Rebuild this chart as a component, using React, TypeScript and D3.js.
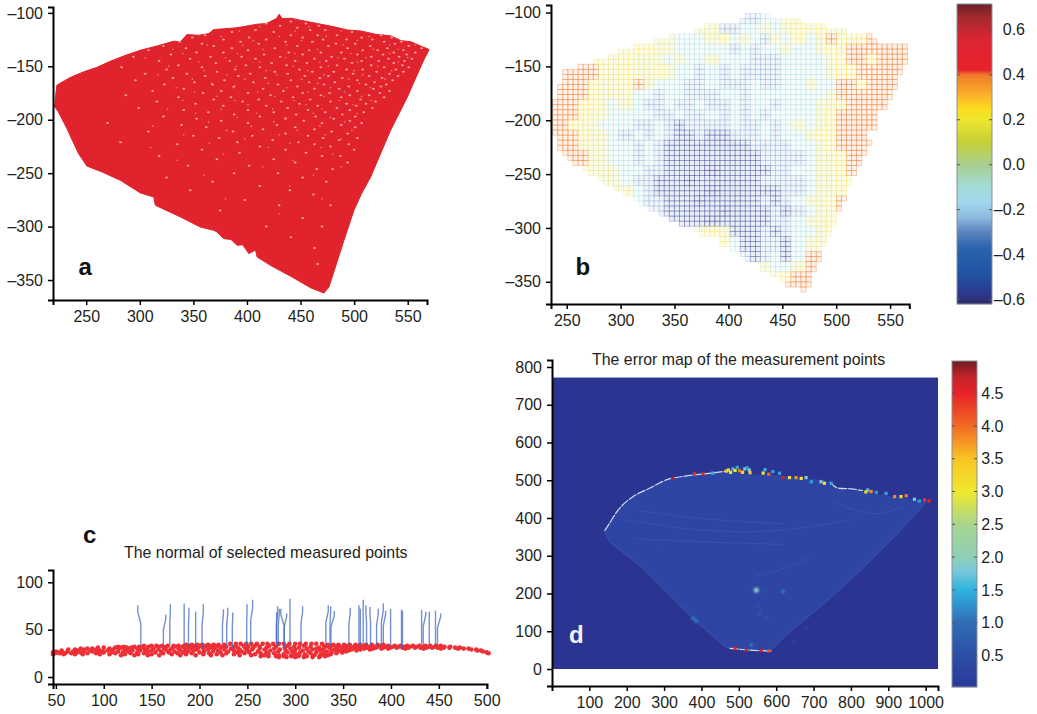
import React, { useEffect, useRef } from "react";
import * as d3 from "d3";

type Pt = [number, number];
type Row = [number, number[]];

// --- panel a: outline of the measured cloud, pale gaps in it
const cloudOutline: Pt[] = [
  [220.4, -187.4], [222.6, -167.7], [235, -160.5], [247.5, -155.2], [260, -151], [272.4, -145.3], [286, -140], [300.5, -135],
  [316, -131], [331.6, -126.5], [338, -127], [344, -120.3], [355, -121], [364.3, -119.4], [369, -115.6], [390, -114], [409.5, -110.6],
  [418, -110], [427.6, -105.3], [430, -101.2], [432.9, -105.3], [441, -105], [450, -106.9], [466, -110], [481, -113], [494, -116], [506, -116.9],
  [520, -120], [534, -121.5], [544, -126], [553, -127], [562, -131], [570, -134.3], [565, -144], [557, -162], [549.7, -178.7], [541, -196], [534, -209.9],
  [525, -231], [515.4, -253.6], [507, -269], [499.8, -284.8], [490.5, -312.9], [476.5, -356.6], [471.8, -362.2], [459.3, -357.2], [440, -346],
  [423.5, -337.2], [409.5, -328.5], [408, -322], [401.7, -325.3], [396, -317], [390.8, -317.5], [385, -312], [378.3, -311.3], [372, -305], [369, -303.5],
  [356.5, -300.4], [337.9, -291], [314.5, -280], [313, -272.3], [300.5, -268.5], [281.8, -256.7], [265, -249], [250.6, -243.3], [242.8, -231.7], [232, -208.3], [224, -192.7],
];
const cloudGaps: Row[] = [
  [-108, [441, 476]], [-110, [418, 455, 492]], [-112, [396, 431, 467, 503]], [-114, [372, 447, 486, 519]], [-116, [408, 459, 473, 530]],
  [-118, [386, 425, 498, 511, 541]], [-121, [361, 441, 466, 484, 525, 549]], [-123, [349, 402, 452, 507, 535]], [-125, [378, 418, 471, 493, 517, 556]],
  [-127, [337, 394, 436, 461, 528, 544]], [-129, [358, 411, 483, 501, 538, 560]], [-131, [322, 369, 447, 476, 515, 551]], [-133, [343, 386, 426, 494, 531, 563]],
  [-135, [308, 401, 458, 508, 522, 546]], [-137, [353, 378, 439, 469, 488, 537, 557]], [-139, [329, 416, 452, 503, 527, 549]], [-141, [294, 366, 395, 431, 479, 516, 542]],
  [-143, [347, 408, 463, 491, 532, 554]], [-145, [318, 384, 445, 474, 507, 523, 547]], [-147, [371, 423, 456, 498, 537]], [-149, [336, 399, 437, 484, 516, 545]],
  [-151, [283, 358, 412, 469, 528, 551]], [-153, [325, 389, 449, 493, 508, 539]], [-155, [372, 426, 461, 481, 521, 546]], [-157, [305, 344, 403, 438, 499, 533]],
  [-159, [361, 392, 454, 476, 514, 541]], [-161, [331, 417, 468, 489, 526]], [-163, [296, 379, 441, 503, 536]], [-165, [351, 406, 458, 482, 519]],
  [-167, [323, 368, 429, 472, 511, 530]], [-169, [388, 447, 495, 525]], [-171, [341, 415, 463, 486, 518]], [-173, [312, 376, 434, 503, 533]],
  [-175, [359, 401, 452, 477, 524]], [-177, [287, 422, 469, 496, 514]], [-179, [336, 385, 443, 488, 528]], [-181, [369, 411, 459, 506]],
  [-183, [316, 396, 432, 478, 520]], [-185, [352, 449, 493, 511]], [-187, [378, 418, 466, 502]], [-189, [299, 438, 484, 517]], [-191, [341, 401, 457, 496]],
  [-193, [364, 425, 473, 509]], [-195, [388, 446, 489]], [-197, [322, 412, 464, 501]], [-199, [353, 436, 481]], [-201, [376, 453, 496]], [-203, [270, 401, 470, 507]],
  [-205, [339, 428, 488]], [-207, [362, 445, 501]], [-209, [415, 463]], [-211, [308, 387, 479]], [-213, [436, 494]], [-215, [350, 405, 457]], [-217, [374, 471, 503]],
  [-219, [424, 486]], [-221, [282, 391, 448]], [-223, [335, 463, 495]], [-225, [412, 478]], [-228, [358, 436, 500]], [-231, [393, 455]], [-234, [318, 470, 487]],
  [-237, [372, 425]], [-240, [445, 494]], [-243, [345, 402]], [-246, [465, 480]], [-250, [388, 429]], [-254, [325, 452]], [-258, [368, 474]], [-262, [412]],
  [-266, [347, 440]], [-270, [462]], [-275, [398]], [-280, [430, 478]], [-285, [375]], [-292, [452]], [-300, [418, 470]], [-310, [441]], [-320, [463]], [-335, [466]],
];
const cloudGapsFine: Row[] = [
  [-113, [412, 458, 497]], [-117, [393, 445, 488, 523]], [-122, [376, 430, 474, 514, 538]], [-126, [406, 451, 503, 552]], [-130, [363, 396, 437, 490, 533, 557]],
  [-134, [331, 415, 466, 518, 541]], [-138, [340, 391, 445, 497, 533]], [-142, [305, 380, 436, 485, 511, 550]], [-146, [355, 412, 468, 503, 541]],
  [-150, [327, 390, 443, 476, 522]], [-154, [360, 418, 457, 500, 535]], [-158, [317, 381, 428, 472, 508]], [-162, [349, 398, 451, 495, 529]], [-166, [367, 420, 466, 505]],
  [-170, [334, 387, 437, 478, 515]], [-174, [351, 410, 457, 491]], [-178, [372, 426, 472, 507]], [-182, [340, 389, 444, 486, 516]], [-186, [401, 455, 499]],
  [-190, [326, 376, 424, 470]], [-194, [352, 409, 462, 503]], [-198, [391, 436, 478]], [-202, [364, 425, 491]], [-206, [312, 404, 468]], [-210, [381, 447, 498]],
  [-214, [341, 430, 473]], [-218, [398, 488]], [-222, [365, 440]], [-226, [310, 420, 469]], [-232, [378, 480]], [-238, [335, 443]], [-244, [415, 488]],
  [-252, [360, 462]], [-262, [440]], [-274, [380, 470]], [-288, [430]],
];

// --- panel b: residual level, one row per 10 units: [top y, first x, levels]
const residualOutline: Pt[] = [
  [237.6, -187.5], [240.7, -175], [248.5, -155], [281, -144], [299.5, -135], [330.4, -125.7], [370.6, -114.8], [420, -102.5],
  [441.7, -103.4], [482, -110.8], [516, -118], [534.5, -122], [567, -132], [567, -141], [546.8, -187.5], [531.4, -221.5], [516, -251],
  [503.5, -283], [485, -326.7], [472.6, -359], [457, -354.5], [423, -332.8], [373.7, -305], [330.4, -283.4], [293.3, -263], [265.5, -246],
  [245.4, -232.3], [237.6, -209],
];
const residualRows: [number, number, number[]][] = [
  [-100, 410, [-2, -2, -1, -1, 1, 1]],
  [-110, 370, [1, 1, -2, -2, -1, -1, 1, -1, 1, 2, 1, 2, 1, 1]],
  [-120, 330, [1, 1, -1, -1, -1, 1, 2, -1, 1, -1, -2, 1, -1, 2, -1, 1, 3, 2, 1, 2, 3]],
  [-130, 300, [1, 2, 2, 1, 1, -1, -1, -1, -1, -1, -2, -1, -2, -1, -1, 1, -1, -1, 1, 2, 1, 3, 3, 3, 3, 3, 3, 3]],
  [-140, 250, [3, 3, 2, 2, 1, 2, 1, 1, 1, -1, 1, -1, -1, 1, -1, -1, -1, -2, -2, -2, -1, -1, -1, -1, 1, 2, 3, 3, 2, 3, 3, 3, 3]],
  [-150, 240, [3, 3, 3, 3, 2, 1, 2, 1, 1, 2, 1, -1, -1, -2, -1, -2, -1, -2, -2, -2, -2, -1, -1, -1, -1, 1, 2, 2, 3, 3, 3, 3, 3]],
  [-160, 240, [3, 3, 3, 2, 1, 1, 2, 3, 1, -1, -1, -1, -2, -2, -1, -2, -2, -2, -1, -2, -2, -1, -1, 1, -1, -1, 3, 3, 2, 3, 3, 3]],
  [-170, 230, [3, 3, 3, 3, 2, 1, 1, 1, -1, -1, -2, -1, -1, -2, -2, -2, -1, -1, -2, -1, -1, -1, -1, -1, -1, -1, 1, 3, 3, 3, 3, 3, 3]],
  [-180, 230, [3, 3, 3, 2, 2, 1, -1, 1, -1, -2, -2, -1, -2, -2, -1, -2, -2, -1, -2, -1, -1, -2, -1, -1, -1, 1, 1, 2, 3, 3, 3, 3]],
  [-190, 230, [3, 3, 3, 2, 1, 1, -1, -1, -1, -1, -2, -2, -1, -2, -2, -1, -2, -1, -2, -1, -2, -1, -1, -1, -1, 1, 2, 3, 3, 3, 3]],
  [-200, 230, [3, 3, 2, 1, 1, -1, -1, -1, -2, -2, -1, -2, -3, -2, -2, -2, -2, -1, -2, -2, -1, -2, -1, 1, -1, 1, 2, 3, 3, 3, 3]],
  [-210, 230, [3, 3, 3, 2, 1, 1, -1, -2, -1, -2, -1, -2, -3, -3, -2, -3, -3, -2, -2, -2, -1, -2, -1, -1, 1, 2, 2, 3, 3, 3]],
  [-220, 240, [3, 3, 1, 1, 1, -1, -1, -2, -1, -2, -3, -3, -3, -3, -3, -3, -3, -3, -2, -2, -2, -2, -1, -1, 1, 2, 3, 3, 3, 3]],
  [-230, 240, [3, 3, 3, 1, 1, -1, -1, -2, -1, -2, -3, -3, -3, -3, -3, -3, -3, -3, -3, -2, -2, -2, -2, -1, 1, 1, 2, 3, 3]],
  [-240, 250, [3, 2, 1, 1, 1, -1, -1, -2, -2, -3, -3, -3, -3, -4, -3, -3, -3, -3, -3, -2, -2, -1, -1, 1, 1, 2, 3, 3]],
  [-250, 260, [2, 2, 1, 1, -1, -2, -2, -3, -3, -3, -4, -3, -3, -3, -3, -3, -3, -2, -2, -2, -2, -1, 1, 1, 2, 2, 3]],
  [-260, 280, [2, 2, 1, -1, -2, -3, -3, -3, -3, -3, -4, -3, -3, -3, -3, -3, -3, -2, -2, -1, 1, 1, 2, 3]],
  [-270, 300, [1, -1, -2, -2, -3, -3, -3, -4, -3, -3, -3, -3, -3, -2, -3, -2, -1, 1, 1, 2, 3, 3]],
  [-280, 320, [-2, -2, -3, -3, -3, -3, -3, -4, -3, -3, -3, -3, -2, -3, -2, -1, 1, 1, 3, 3]],
  [-290, 340, [-3, -3, -3, -3, -4, -3, -3, -3, -3, -3, -2, -2, -1, 1, 1, 2, 3, 3]],
  [-300, 370, [1, 2, 1, -3, -3, -3, -2, -3, -2, -1, -1, 1, 2, 3, 3]],
  [-310, 390, [2, -1, -3, -3, -2, -2, -3, -1, 1, 1, 3, 3]],
  [-320, 410, [-2, -3, -2, -1, -3, -1, 3, 3, 3]],
  [-330, 430, [1, -1, -1, 1, 3, 3]],
  [-340, 440, [1, 2, 3, 3, 3]],
  [-350, 450, [3, 3, 3, 3]],
];
// what each level reads as on the colour bar, from level -4 up to level 3 (no level 0)
const residualLevels = [-0.58, -0.54, -0.27, -0.12, 0, 0.14, 0.25, 0.4];
const levelStrength = [0.46, 0.36, 0.3, 0.3, 0.3, 0.22, 0.28, 0.46];
const residualStops = [-0.62, -0.57, -0.48, -0.37, -0.3, -0.23, -0.17, -0.1, 0, 0.1, 0.2, 0.25, 0.3, 0.4, 0.42, 0.55, 0.65, 0.715];
const residualColors = ["#2d2a6a", "#2b3a8f", "#2155a4", "#2a64ad", "#5c85bf", "#8fbde0", "#a2d6ee", "#a2dcd8", "#a8cf90", "#c7cf36", "#eee62d", "#f9dc1d", "#fbb829", "#f07a2a", "#e6232c", "#de2530", "#a82a30", "#6b2025"];
const residualTicks = [-0.6, -0.4, -0.2, 0, 0.2, 0.4, 0.6];

// --- panel c: surface points, one row per height, and the normals [base x, base y, top x, top y]
const surfaceRows: Row[] = [
  [35, [232, 238, 243, 249, 254, 260, 266, 271, 277, 283, 288, 294, 300, 305, 311, 317, 322, 328]],
  [34, [186, 192, 198, 203, 209, 215, 220, 226, 334, 340, 345, 351, 357, 363, 368, 374, 380, 386, 392]],
  [33, [142, 150, 155, 161, 167, 173, 178, 184, 190, 196, 201, 207, 213, 219, 225, 246, 258, 273, 292, 309, 330, 338, 346, 355, 364, 372, 381, 389, 397, 404, 410, 417, 423, 430, 436, 441, 447, 452]],
  [32, [115, 121, 132, 137, 147, 158, 165, 176, 182, 194, 205, 217, 228, 236, 251, 263, 280, 299, 316, 332, 343, 352, 361, 370, 378, 386, 394, 402, 408, 414, 420, 427, 433, 440, 446, 451, 456, 462]],
  [31, [94, 100, 112, 118, 124, 129, 139, 146, 172, 187, 199, 211, 222, 240, 256, 270, 289, 304, 325, 336, 349, 358, 366, 375, 384, 392, 399, 406, 412, 418, 425, 431, 437, 443, 449, 455, 461, 467, 472]],
  [30, [76, 83, 88, 106, 116, 127, 135, 152, 163, 178, 191, 204, 215, 233, 248, 263, 278, 295, 312, 322, 344, 354, 363, 372, 381, 390, 397, 415, 434, 452, 470, 476, 481]],
  [29, [63, 70, 80, 92, 110, 122, 143, 157, 170, 185, 197, 209, 226, 242, 255, 268, 284, 300, 318, 329, 341, 350, 359, 368, 378, 484, 489]],
  [28, [56, 73, 86, 96, 104, 130, 138, 150, 166, 180, 194, 219, 236, 250, 274, 290, 308, 326, 338, 347, 356, 364, 490, 494]],
  [27, [50, 62, 68, 79, 88, 99, 115, 125, 146, 160, 174, 188, 205, 214, 230, 244, 261, 282, 297, 314, 333, 344, 353, 496]],
  [26, [47, 52, 57, 72, 76, 93, 100, 108, 120, 135, 154, 168, 183, 200, 222, 240, 252, 270, 292, 305, 322, 338, 349, 500]],
  [25, [49, 54, 60, 66, 83, 92, 112, 128, 142, 162, 177, 192, 210, 228, 247, 264, 278, 300, 316, 330, 343, 502]],
  [24, [47, 58, 70, 78, 96, 106, 122, 136, 150, 171, 186, 204, 218, 236, 258, 272, 288, 310, 327, 337]],
  [23, [118, 132, 146, 158, 180, 196, 212, 224, 242, 254, 268, 283, 296, 304, 320, 334]],
  [22, [264, 272, 280, 288, 296, 303, 312, 326, 331]],
  [21, [283, 291, 300, 309, 318, 325]],
];
const normals: [number, number, number, number][] = [
  [138.7, 33, 135.6, 75.7], [162.3, 29, 164.8, 66], [169, 34, 169.6, 76.8], [184, 35, 184, 77.5], [188.5, 33, 189, 73], [196, 32, 196, 69],
  [202.7, 30, 204, 76.8], [224, 35, 225, 71.5], [228.4, 33, 229.5, 73], [234.3, 31, 234.7, 68], [249.3, 33, 249.6, 76.8], [253.5, 35, 255.5, 81.7],
  [280.6, 33, 281.6, 74.6], [280.3, 34, 280.6, 68.7], [282.3, 34, 283.4, 72], [288.6, 31, 285, 72], [288.3, 33, 291, 67], [294.5, 35, 294.5, 82.7],
  [306, 35, 307.7, 74.6], [332, 35, 334.5, 75.7], [336.3, 34, 337, 74.6], [337.3, 32, 340.8, 69.7], [356, 34, 357.5, 73], [366.5, 35, 366.5, 75.7],
  [368, 34, 368, 72], [371, 35, 371, 81.7], [374.5, 34, 373.8, 75.7], [378.7, 34, 378, 74], [385, 33, 386.7, 72], [390, 34, 392, 78],
  [392, 34, 394.4, 70], [399.6, 33, 399.6, 72], [411, 31, 411, 71], [412, 30, 412, 70], [432, 35, 432, 71], [433.7, 34, 436.4, 69],
  [440, 34, 440, 69], [446.5, 34, 446.5, 70], [448.6, 33, 452, 67],
];

// --- panel d: fan outline, bright edge, hot spots [x, y, error], soft glows [x, y, error]
const fanTop: Pt[] = [
  [140.5, 362], [154, 386], [180.7, 425.6], [216, 456.5], [261, 478.7], [305.7, 500.7], [368, 512], [457, 524.5], [529, 515.7], [600, 514], [671.6, 505],
  [734, 498], [756.6, 480], [832, 469.8], [912.6, 456.5], [1002, 443],
];
const fanBottom: Pt[] = [
  [1002, 443], [930, 364], [823, 258], [734, 178], [627, 90], [582, 46], [466, 56.5], [386, 125], [243, 266.7], [154, 337], [140.5, 362],
];
const fanEdgeTop: Pt[] = [
  [140.6, 365.7], [154, 386], [180.7, 425.7], [216.5, 456.6], [261, 478.7], [305.7, 500.8], [363.7, 512], [421.7, 518.4], [470.8, 524.6],
];
const fanEdgeRight: Pt[] = [[745, 495], [760, 481], [800, 477], [832, 472.5]];
const fanEdgeBottom: Pt[] = [[475, 54.7], [530, 50], [587, 47.6]];
const hotSpots: [number, number, number][] = [
  [252, 483, 0.02], [297, 503, 0.02], [323, 505, 4.8], [382, 517, 4.4], [404, 517, 4.5], [430, 519, 1.5],
  [466, 524, 3.4], [472, 527, 3.1], [478, 521, 3], [484, 530, 1.5], [490, 526, 3], [496, 534, 1.4], [502, 525, 3.9], [510, 521, 3.2], [516, 530, 1.8],
  [522, 533, 1.4], [528, 527, 1.9], [530, 520, 3.5], [565, 519, 3], [570, 528, 1.5], [580, 516, 4],
  [591, 523, 1.4], [609, 518.5, 1.4], [618, 507, 4.7], [635.6, 507, 3.1], [653, 507, 3.8], [667, 505, 3.1], [680, 507, 1.8], [694, 496, 1.4],
  [720, 496, 1.9], [729, 492, 3.1], [747, 492, 1.5], [845, 474, 1.7], [840, 469, 3.2], [854, 470, 3.8], [868, 468, 1.3], [894, 465, 1.4],
  [917, 456.6, 3.8], [934, 456.6, 3.2], [948, 459, 3.9], [970, 449.6, 1.8], [983, 445, 1.4], [997, 448, 4.4], [1009, 445, 4.5],
  [490, 55, 4.5], [520, 50, 4.7], [560, 49, 4.7], [580, 48, 4.2],
];
const glows: [number, number, number][] = [
  [546.7, 209, 1.9], [618, 205, 1.2], [572, 209, 0.8], [386, 127, 1.2], [378, 134, 1.2], [533, 63.5, 1.2], [556, 147, 0.9], [573, 134, 0.9], [551, 169, 0.8], [350, 165, 0.7], [680, 110, 0.7], [645, 75, 0.7], [290, 320, 0.6],
];
const fanStreaks: Pt[][] = [
  [[230, 420], [400, 395], [620, 385]],
  [[200, 395], [380, 365], [600, 360], [800, 395]],
  [[220, 345], [420, 335], [620, 330]],
  [[540, 245], [610, 260], [700, 300]],
  [[760, 440], [860, 400], [940, 430]],
];
const errorStops = [0.02, 0.5, 1, 1.5, 1.8, 2, 2.5, 3, 3.5, 4, 4.5, 4.75, 4.99];
const errorColors = ["#2b3a9a", "#2d4ea5", "#2f6db5", "#2eb2e0", "#7cc9d8", "#8fcfb8", "#a8d68f", "#f0e92c", "#f8c425", "#f26a21", "#e8222a", "#c2242a", "#6e1a1e"];
const errorTicks = [0.5, 1, 1.5, 2, 2.5, 3, 3.5, 4, 4.5];

const xTicksTop = [250, 300, 350, 400, 450, 500, 550];
const yTicksTop = [-100, -150, -200, -250, -300, -350];
const xTicksC = [50, 100, 150, 200, 250, 300, 350, 400, 450, 500];
const yTicksC = [0, 50, 100];
const xTicksD = [100, 200, 300, 400, 500, 600, 700, 800, 900, 1000];
const yTicksD = [0, 100, 200, 300, 400, 500, 600, 700, 800];

const FONT = "'Liberation Sans', Arial, sans-serif";
const INK = "#231f20";

const dash = (v: number) => String(v).replace("-", "\u2013");

function styleAxis(g: any) {
  g.selectAll(".domain").attr("stroke", "#000").attr("stroke-width", 2);
  g.selectAll(".tick line").attr("stroke", "#000").attr("stroke-width", 1.5);
  g.selectAll("text").attr("font-family", FONT).attr("font-size", 16).attr("fill", INK);
}

function drawAxes(svg: any, x: any, y: any, xTicks: number[], yTicks: number[]) {
  const left = x.range()[0];
  const bottom = y.range()[0];
  svg.append("g").attr("transform", `translate(${left},0)`)
    .call(d3.axisLeft(y).tickValues(yTicks).tickSizeOuter(0).tickSize(5).tickPadding(5).tickFormat((d: any) => dash(d)))
    .call(styleAxis);
  return svg.append("g").attr("transform", `translate(0,${bottom})`)
    .call(d3.axisBottom(x).tickValues(xTicks).tickSizeOuter(0).tickSize(5).tickPadding(6).tickFormat((d: any) => dash(d)))
    .call(styleAxis);
}

function drawColorbar(svg: any, color: any, scale: any, ticks: number[], left: number, right: number, labelX: number, fmt: (v: number) => string) {
  const [bottom, top] = scale.range();
  const steps = d3.range(top, bottom, 1);
  svg.append("g").selectAll("rect").data(steps).join("rect")
    .attr("x", left).attr("width", right - left)
    .attr("y", (d: number) => d).attr("height", 1.2)
    .attr("fill", (d: number) => color(scale.invert(d + 0.5)));
  svg.append("rect").attr("x", left).attr("y", top).attr("width", right - left).attr("height", bottom - top)
    .attr("fill", "none").attr("stroke", "#8a8f96").attr("stroke-width", 1);
  const t = svg.append("g").selectAll("g").data(ticks).join("g");
  t.append("line").attr("x1", left).attr("x2", left + 3).attr("y1", (d: number) => scale(d)).attr("y2", (d: number) => scale(d)).attr("stroke", "#555");
  t.append("line").attr("x1", right - 3).attr("x2", right).attr("y1", (d: number) => scale(d)).attr("y2", (d: number) => scale(d)).attr("stroke", "#555");
  t.append("text").attr("x", labelX).attr("y", (d: number) => scale(d)).attr("dy", "0.35em").attr("text-anchor", "end")
    .attr("font-family", FONT).attr("font-size", 16).attr("fill", INK).text((d: number) => fmt(d));
}

function letter(svg: any, s: string, x: number, y: number, fill = "#111") {
  svg.append("text").attr("x", x).attr("y", y).attr("font-family", FONT).attr("font-weight", "bold")
    .attr("font-size", 24).attr("fill", fill).text(s);
}

function title(svg: any, s: string, x: number, y: number) {
  svg.append("text").attr("x", x).attr("y", y).attr("font-family", FONT).attr("font-size", 15.9).attr("fill", INK).text(s);
}

export default function App() {
  const ref = useRef<SVGSVGElement>(null);

  useEffect(() => {
    const svg = d3.select(ref.current);
    svg.selectAll("*").remove();

    const defs = svg.append("defs");
    defs.append("filter").attr("id", "glow").attr("x", "-100%").attr("y", "-100%").attr("width", "300%").attr("height", "300%")
      .append("feGaussianBlur").attr("stdDeviation", 1);
    defs.append("filter").attr("id", "soft").attr("x", "-5%").attr("y", "-5%").attr("width", "110%").attr("height", "110%")
      .append("feGaussianBlur").attr("stdDeviation", 0.5);

    // panel a
    const xA = d3.scaleLinear().domain([219, 568]).range([53, 427]);
    const yA = d3.scaleLinear().domain([-368.7, -94.5]).range([300, 7]);
    const lineA = d3.line<Pt>().x((d) => xA(d[0])).y((d) => yA(d[1])).curve(d3.curveLinearClosed);
    const toPoints = (rows: Row[]) =>
      rows.flatMap(([y, xs]) => xs.map((x) => [x, y] as Pt)).filter((p) => d3.polygonContains(cloudOutline, p));
    svg.append("path").attr("d", lineA(cloudOutline)).attr("fill", "#e0232c").attr("stroke", "#e0232c").attr("stroke-width", 1);
    svg.append("g").selectAll("ellipse").data(toPoints(cloudGaps)).join("ellipse")
      .attr("cx", (d) => xA(d[0])).attr("cy", (d) => yA(d[1])).attr("rx", 1.4).attr("ry", 1)
      .attr("fill", "#f8b3a4").attr("fill-opacity", 0.85);
    svg.append("g").selectAll("circle").data(toPoints(cloudGapsFine)).join("circle")
      .attr("cx", (d) => xA(d[0])).attr("cy", (d) => yA(d[1])).attr("r", 0.8)
      .attr("fill", "#f4a090").attr("fill-opacity", 0.8);
    drawAxes(svg, xA, yA, xTicksTop, yTicksTop);
    letter(svg, "a", 78.5, 275);

    // panel b
    const xB = d3.scaleLinear().domain([235.4, 567.8]).range([551, 909.3]);
    const yB = d3.scaleLinear().domain([-370.6, -93]).range([304, 5]);
    const residualColor = d3.scaleLinear<string>().domain(residualStops).range(residualColors);
    const levelAt = (x: number, y: number) => {
      const row = residualRows.find((r) => y <= r[0] && y > r[0] - 10);
      if (!row) return undefined;
      return row[2][Math.floor((x - row[1]) / 10)];
    };
    const step = 4.7;
    const cells = d3.range(-101, -362, -step).flatMap((y) =>
      d3.range(237, 570, step).map((x) => ({ x, y, l: levelAt(x + step / 2, y - step / 2) as number })),
    ).filter((c) => c.l !== undefined && d3.polygonContains(residualOutline, [c.x + step / 2, c.y - step / 2]));
    svg.append("g").selectAll("rect").data(cells).join("rect")
      .attr("x", (d) => xB(d.x)).attr("y", (d) => yB(d.y))
      .attr("width", xB(step) - xB(0)).attr("height", xB(step) - xB(0))
      .attr("fill", (d) => residualColor(residualLevels[d.l + 4])).attr("fill-opacity", 0.09)
      .attr("stroke", (d) => residualColor(residualLevels[d.l + 4])).attr("stroke-opacity", (d) => levelStrength[d.l + 4]).attr("stroke-width", 0.75);
    drawAxes(svg, xB, yB, xTicksTop, yTicksTop);
    letter(svg, "b", 575.5, 275);

    const barB = d3.scaleLinear().domain([-0.62, 0.715]).range([304, 4]);
    drawColorbar(svg, residualColor, barB, residualTicks, 957, 992, 1025, (v) => dash(+v.toFixed(1)).replace(/^(\u2013?\d)$/, "$1.0"));

    // panel c
    const xC = d3.scaleLinear().domain([47, 500.3]).range([53, 487]);
    const yC = d3.scaleLinear().domain([-7.4, 113]).range([684, 570]);
    svg.append("g").selectAll("circle")
      .data(surfaceRows.flatMap(([y, xs]) => xs.map((x) => [x, y] as Pt)))
      .join("circle")
      .attr("cx", (d) => xC(d[0])).attr("cy", (d) => yC(d[1])).attr("r", 2.3).attr("fill", "#ee2f36");
    const normalLine = d3.line<Pt>().x((p) => xC(p[0])).y((p) => yC(p[1]));
    svg.append("g").selectAll("path").data(normals).join("path")
      .attr("d", (d) => {
        const mid = (d[1] + d[3]) / 2 + 8;
        return normalLine([[d[0], d[1]], [d[0], mid - 6], [d[2], mid + 6], [d[2], d[3]]]);
      })
      .attr("fill", "none").attr("stroke", "#3f66bd").attr("stroke-opacity", 0.72).attr("stroke-width", 1.4);
    drawAxes(svg, xC, yC, xTicksC, yTicksC);
    letter(svg, "c", 83, 543);
    title(svg, "The normal of selected measured points", 124, 558);

    // panel d
    const xD = d3.scaleLinear().domain([0, 1033]).range([552, 938]);
    const yD = d3.scaleLinear().domain([-45, 818.5]).range([686, 360]);
    const errorColor = d3.scaleLinear<string>().domain(errorStops).range(errorColors);
    const lineD = d3.line<Pt>().x((d) => xD(d[0])).y((d) => yD(d[1]));
    const arcD = d3.line<Pt>().x((d) => xD(d[0])).y((d) => yD(d[1])).curve(d3.curveCatmullRom);
    svg.append("rect").attr("x", xD(0)).attr("y", yD(772)).attr("width", xD(1033) - xD(0)).attr("height", yD(0) - yD(772)).attr("fill", "#2c3492");
    svg.append("path").attr("d", arcD(fanTop) + "L" + (lineD(fanBottom) as string).slice(1) + "Z").attr("fill", "#2e44a4").attr("filter", "url(#soft)");
    svg.append("g").selectAll("path").data(fanStreaks).join("path")
      .attr("d", (d) => d3.line<Pt>().x((p) => xD(p[0])).y((p) => yD(p[1])).curve(d3.curveBasis)(d))
      .attr("fill", "none").attr("stroke", "#4a72c4").attr("stroke-opacity", 0.25).attr("stroke-width", 1.2).attr("filter", "url(#soft)");
    svg.append("path").attr("d", lineD(fanBottom)).attr("fill", "none")
      .attr("stroke", "#3f6cc0").attr("stroke-opacity", 0.3).attr("stroke-width", 1.4).attr("filter", "url(#soft)");
    svg.append("g").selectAll("circle").data(glows).join("circle")
      .attr("cx", (d) => xD(d[0])).attr("cy", (d) => yD(d[1])).attr("r", (d) => 0.5 + d[2] * 1.1)
      .attr("fill", (d) => errorColor(d[2])).attr("filter", "url(#glow)");
    svg.append("g").selectAll("path").data([fanEdgeTop, fanEdgeRight, fanEdgeBottom]).join("path")
      .attr("d", (d) => arcD(d)).attr("fill", "none").attr("stroke", "#c8dfea").attr("stroke-width", 1.2).attr("stroke-dasharray", "9,1");
    svg.append("g").attr("filter", "url(#soft)").selectAll("rect").data(hotSpots).join("rect")
      .attr("x", (d) => xD(d[0]) - 1.6).attr("y", (d) => yD(d[1]) - 1.6).attr("width", 3.2).attr("height", 3.2)
      .attr("fill", (d) => errorColor(d[2]));
    const bottomD = drawAxes(svg, xD, yD, xTicksD, yTicksD);
    bottomD.selectAll(".tick").filter((d: any) => d === 600).select("text").attr("dy", "0.6em");
    letter(svg, "d", 569, 643, "#f2f4fb");
    title(svg, "The error map of the measurement points", 592, 365);

    const barD = d3.scaleLinear().domain([0.02, 4.99]).range([687, 361]);
    drawColorbar(svg, errorColor, barD, errorTicks, 952, 977, 1003.5, (v) => v.toFixed(1));
  }, []);

  return <svg ref={ref} width={1037} height={714} style={{ position: "absolute", left: 0, top: 0, display: "block", background: "#fff" }} />;
}
